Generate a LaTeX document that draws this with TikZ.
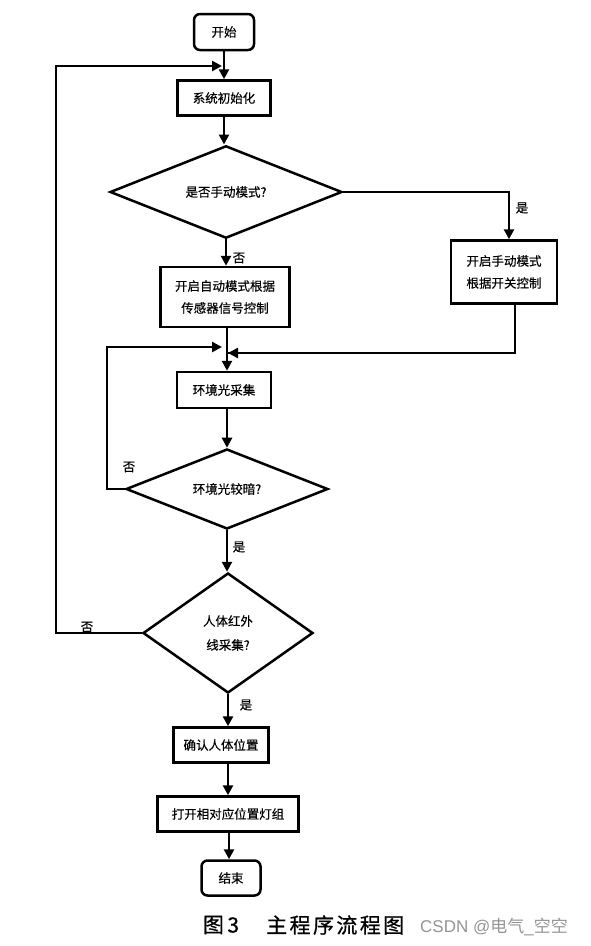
\documentclass[tikz,border=0pt]{standalone}
\usepackage{fontspec}
\setmainfont{Noto Sans CJK SC}
\newfontfamily\cjk[FakeBold=0.4]{Noto Sans CJK SC}
\newfontfamily\capfont[FakeBold=0.6]{Noto Sans CJK SC}
\newfontfamily\cjkplain{Noto Sans CJK SC}
\newfontfamily\latinsans{Liberation Sans}
\usetikzlibrary{shapes.geometric,arrows.meta,calc}
\tikzset{
  base/.style={draw=black, line width=2.5pt, inner sep=0pt, font=\fontsize{12.5}{16}\selectfont\cjk, align=center},
  procbox/.style={base, rectangle},
  termbox/.style={base, rectangle, rounded corners=6pt},
  decbox/.style={base, diamond},
  arr/.style={line width=2.5pt, -{Triangle[length=10pt,width=10pt]}},
  ln/.style={line width=2.5pt},
  lbl/.style={font=\fontsize{12.5}{16}\selectfont\cjk, inner sep=0pt}
}
\begin{document}
\begin{tikzpicture}[x=1pt,y=-1pt]
\useasboundingbox (0,0) rectangle (591,946);
% nodes
\node[termbox, minimum width=60pt, minimum height=36pt] (start) at (224,32) {开始};
\node[procbox, minimum width=93pt, minimum height=35pt] (init) at (224,98) {系统初始化};
\node[decbox, minimum width=232pt, minimum height=69pt] (d1) at (226,192) {是否手动模式?};
\node[procbox, minimum width=106pt, minimum height=63pt] (manual) at (504,272) {开启手动模式\\[6pt]根据开关控制};
\node[procbox, minimum width=129pt, minimum height=60pt] (auto) at (225,297) {开启自动模式根据\\[6pt]传感器信号控制};
\node[procbox, minimum width=94pt, minimum height=36pt] (env) at (224,390) {环境光采集};
\node[decbox, minimum width=202pt, minimum height=68pt] (d2) at (227,489) {环境光较暗?};
\node[decbox, minimum width=170pt, minimum height=120pt] (d3) at (228,633) {人体红外\\[8pt]线采集?};
\node[procbox, minimum width=95pt, minimum height=35pt] (confirm) at (221,745) {确认人体位置};
\node[procbox, minimum width=141pt, minimum height=35pt] (open) at (228,814) {打开相对应位置灯组};
\node[termbox, minimum width=59pt, minimum height=35pt] (stop) at (231,878) {结束};
% junction coordinates
\coordinate (j1) at (224,66);
\coordinate (j2) at (227,353);
\coordinate (j3) at (224,347);
\coordinate (rtop) at ([xshift=5pt]manual.north);
\coordinate (rbot) at ([xshift=11pt]manual.south);
\coordinate (c1) at (227,327);
\coordinate (c2) at (227,408);
% main flow
\draw[arr] (start.south) -- (init.north);
\draw[arr] (init.south) -- (init.south |- d1.north);
\draw[arr] (d1.south) -- (d1.south |- auto.north);
\draw[arr] (d1.east) -| (rtop);
\draw[arr] (c1) -- (c1 |- env.north);
\draw[ln] (rbot) |- (j2);
\draw[arr] (rbot) |- ([xshift=1pt]j2);
\draw[arr] (c2) -- (c2 |- d2.north);
\draw[arr] (d2.south) -- (d2.south |- d3.north);
\draw[arr] (d3.south) -- (d3.south |- confirm.north);
\draw[arr] (confirm.south -| open.north) -- (open.north);
\draw[arr] (open.south -| 229,0) -- (229,0 |- stop.north);
% loops
\draw[arr] (d2.west) -- ++(-18,0) |- ([xshift=-2pt]j3);
\draw[arr] (d3.west) -- ++(-86,0) |- ([xshift=-2pt]j1);
% labels
\node[lbl] (l1) at (239,258) {否};
\node[lbl] (l2) at (522,208) {是};
\node[lbl] (l3) at (129,467) {否};
\node[lbl] (l4) at (239,547) {是};
\node[lbl] (l5) at (87,627) {否};
\node[lbl] (l6) at (246,705) {是};
% caption
\node[inner sep=0pt, font=\fontsize{21}{22}\selectfont\capfont] (cap1) at (221,925) {图\,3};
\node[inner sep=0pt, font=\fontsize{21}{22}\selectfont\capfont, anchor=west] (cap2) at (266,925) {主\hspace{2.4pt}程\hspace{2.4pt}序\hspace{2.4pt}流\hspace{2.4pt}程\hspace{2.4pt}图};
\node[inner sep=0pt, text=black!42, font=\fontsize{17}{18}\selectfont\cjkplain, anchor=west] (cap3) at (420,927) {{\latinsans CSDN @}电气{\latinsans\_}空空};
\end{tikzpicture}
\end{document}
